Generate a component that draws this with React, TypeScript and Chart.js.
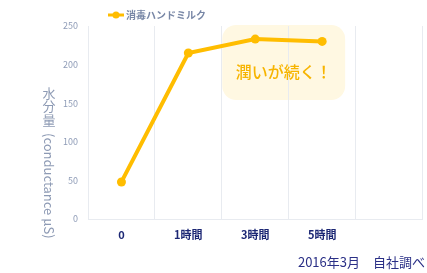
import React, { useEffect, useRef } from "react";
import { Chart, registerables } from "chart.js";

Chart.register(...registerables);

const categories = ["0", "1時間", "3時間", "5時間", ""];
const seriesName = "消毒ハンドミルク";
const seriesValues: (number | null)[] = [48, 215, 233, 230, null];
const yTitleUpright = "水分量";
const yTitleRotated = "(conductance μS)";
const calloutText = "潤いが続く！";
const noteText = "2016年3月　自社調べ";

const FONT = "'Noto Sans CJK JP', 'Noto Sans', sans-serif";
const LINE = "#ffbd00";

const overlay = {
  id: "overlay",
  beforeDraw(chart: any) {
    const ctx = chart.ctx;
    const xs = chart.scales.x;
    const ys = chart.scales.y;
    const x1 = xs.getPixelForValue(2) - 33;
    const x2 = xs.getPixelForValue(3) + 23;
    const y1 = ys.getPixelForValue(250) - 1;
    const y2 = ys.getPixelForValue(154);
    ctx.save();
    ctx.fillStyle = "#fff8e2";
    ctx.beginPath();
    (ctx as any).roundRect(x1, y1, x2 - x1, y2 - y1, 14);
    ctx.fill();
    ctx.restore();
  },
  afterDatasetsDraw(chart: any) {
    const ctx = chart.ctx;
    const xs = chart.scales.x;
    const ys = chart.scales.y;
    ctx.save();
    ctx.fillStyle = "#f7b400";
    ctx.font = `500 16px ${FONT}`;
    ctx.textAlign = "center";
    ctx.textBaseline = "middle";
    const cx = (xs.getPixelForValue(2) + xs.getPixelForValue(3)) / 2 - 5;
    ctx.fillText(calloutText, cx, ys.getPixelForValue(190));

    ctx.strokeStyle = LINE;
    ctx.lineWidth = 3;
    ctx.beginPath();
    ctx.moveTo(108, 15);
    ctx.lineTo(124, 15);
    ctx.stroke();
    ctx.fillStyle = LINE;
    ctx.beginPath();
    ctx.arc(116, 15, 3.5, 0, Math.PI * 2);
    ctx.fill();
    ctx.fillStyle = "#7887a6";
    ctx.font = `bold 10px ${FONT}`;
    ctx.textAlign = "left";
    ctx.textBaseline = "middle";
    ctx.fillText(seriesName, 126, 15);

    ctx.fillStyle = "#8d9ab4";
    ctx.font = `13px ${FONT}`;
    ctx.textAlign = "center";
    ctx.textBaseline = "middle";
    const chars = Array.from(yTitleUpright);
    chars.forEach((c, i) => ctx.fillText(c, 49, 93 + i * 13.5));
    ctx.save();
    ctx.translate(49, 133);
    ctx.rotate(Math.PI / 2);
    ctx.textAlign = "left";
    ctx.fillText(yTitleRotated, 0, 0);
    ctx.restore();

    ctx.fillStyle = "#2a2f86";
    ctx.font = `13px ${FONT}`;
    ctx.textAlign = "right";
    ctx.textBaseline = "middle";
    ctx.fillText(noteText, 425, 262);
    ctx.restore();
  },
};

export default function App() {
  const ref = useRef<HTMLCanvasElement>(null);
  useEffect(() => {
    const chart = new Chart(ref.current!, {
      type: "line",
      data: {
        labels: categories,
        datasets: [
          {
            label: seriesName,
            data: seriesValues,
            borderColor: LINE,
            backgroundColor: LINE,
            borderWidth: 4,
            pointRadius: 4.5,
            pointBackgroundColor: LINE,
            pointBorderWidth: 0,
            tension: 0,
          },
        ],
      },
      options: {
        animation: false,
        responsive: false,
        layout: { padding: { top: 26, right: 1, left: 0, bottom: 0 } },
        plugins: { legend: { display: false }, tooltip: { enabled: false } },
        scales: {
          x: {
            offset: true,
            grid: { offset: true, color: "#e8ebf0", lineWidth: 1, drawTicks: false },
            border: { color: "#e8ebf0" },
            ticks: {
              color: "#1c2774",
              font: { family: FONT, size: 11, weight: "bold" },
              padding: 9,
              maxRotation: 0,
            },
            afterFit: (s: any) => {
              s.height = 54;
            },
          },
          y: {
            min: 0,
            max: 250,
            grid: { display: false, drawTicks: false },
            border: { display: true, color: "#e8ebf0" },
            ticks: {
              stepSize: 50,
              color: "#8f9cb7",
              font: { family: FONT, size: 9 },
              padding: 10,
            },
            afterFit: (s: any) => {
              s.width = 88;
            },
          },
        },
      },
      plugins: [overlay],
    } as any);
    return () => chart.destroy();
  }, []);
  return (
    <div style={{ position: "fixed", left: 0, top: 0, width: 427, height: 273, background: "#fff" }}>
      <canvas ref={ref} width={427} height={273} style={{ display: "block" }} />
    </div>
  );
}
